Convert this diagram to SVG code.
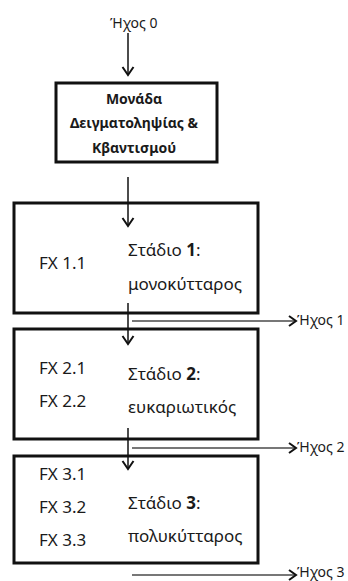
<svg xmlns="http://www.w3.org/2000/svg" width="348" height="581" viewBox="0 0 348 581">
<style>
  .box { fill: #fff; stroke: #111; stroke-width: 3; }
  .t { font-family: "Noto Sans", "Open Sans", sans-serif; font-size: 17px; fill: #1a1a1a; }
  .tb { font-family: "Noto Sans", "Open Sans", sans-serif; font-size: 14px; font-weight: bold; fill: #1a1a1a; }
  .snd { font-family: "Noto Sans", "Open Sans", sans-serif; font-size: 14px; fill: #1a1a1a; }
  .b { font-weight: bold; }
  .v { stroke: #111; stroke-width: 1.5; fill: none; }
  .h { stroke: #777; stroke-width: 2; fill: none; }
</style>
<defs>
  <marker id="ah" markerUnits="userSpaceOnUse" markerWidth="14" markerHeight="14" refX="11" refY="7" viewBox="0 0 14 14" orient="auto">
    <path d="M3,1.5 L11,7 L3,12.5" fill="none" stroke="#111" stroke-width="2"/>
  </marker>
  <marker id="ahh" markerUnits="userSpaceOnUse" markerWidth="12" markerHeight="12" refX="10" refY="6" viewBox="0 0 12 12" orient="auto">
    <path d="M3,1 L10,6 L3,11" fill="none" stroke="#111" stroke-width="2"/>
  </marker>
</defs>

<g id="sound0"><text class="snd" x="110" y="28">Ήχος 0</text></g>

<g id="adc">
  <rect class="box" x="56" y="83" width="161" height="79"/>
  <text class="tb" x="134" y="104" text-anchor="middle">Μονάδα</text>
  <text class="tb" x="134" y="128" text-anchor="middle">Δειγματοληψίας &amp;</text>
  <text class="tb" x="134" y="153" text-anchor="middle">Κβαντισμού</text>
</g>

<g id="stage1">
  <rect class="box" x="14" y="203" width="244" height="110"/>
  <text class="t" x="39" y="269">FX 1.1</text>
  <text class="t" x="128" y="256">Στάδιο <tspan class="b">1</tspan>:</text>
  <text class="t" x="128" y="290">μονοκύτταρος</text>
</g>

<g id="stage2">
  <rect class="box" x="14" y="329" width="244" height="110"/>
  <text class="t" x="39" y="374">FX 2.1</text>
  <text class="t" x="39" y="407">FX 2.2</text>
  <text class="t" x="128" y="380">Στάδιο <tspan class="b">2</tspan>:</text>
  <text class="t" x="128" y="413">ευκαριωτικός</text>
</g>

<g id="stage3">
  <rect class="box" x="14" y="456" width="244" height="107"/>
  <text class="t" x="39" y="480">FX 3.1</text>
  <text class="t" x="39" y="513">FX 3.2</text>
  <text class="t" x="39" y="546">FX 3.3</text>
  <text class="t" x="128" y="509">Στάδιο <tspan class="b">3</tspan>:</text>
  <text class="t" x="128" y="542">πολυκύτταρος</text>
</g>

<g id="sound1"><text class="snd" x="297" y="325">Ήχος 1</text></g>
<g id="sound2"><text class="snd" x="297" y="452">Ήχος 2</text></g>
<g id="sound3"><text class="snd" x="297" y="577">Ήχος 3</text></g>

<g id="connectors">
  <line class="v" x1="128" y1="33" x2="128" y2="75" marker-end="url(#ah)"/>
  <line class="v" x1="128" y1="177" x2="128" y2="226" marker-end="url(#ah)"/>
  <line class="v" x1="128" y1="303" x2="128" y2="344" marker-end="url(#ah)"/>
  <line class="v" x1="128" y1="428" x2="128" y2="469" marker-end="url(#ah)"/>
  <line class="h" x1="132" y1="321" x2="296" y2="321" marker-end="url(#ahh)"/>
  <line class="h" x1="132" y1="448" x2="296" y2="448" marker-end="url(#ahh)"/>
  <line class="h" x1="132" y1="575" x2="296" y2="575" marker-end="url(#ahh)"/>
</g>
</svg>
